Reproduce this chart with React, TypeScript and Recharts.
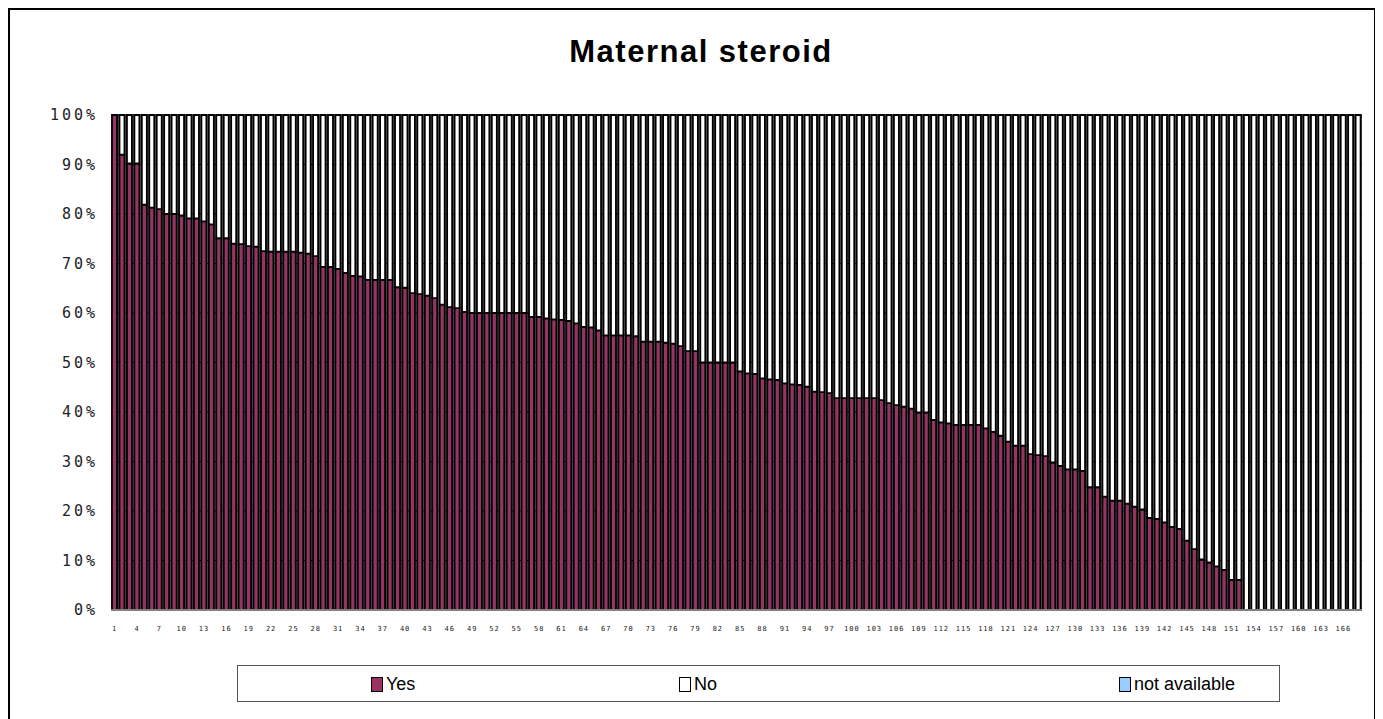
import React from 'react';
import { BarChart, Bar, XAxis, YAxis, CartesianGrid } from 'recharts';

// share of "Yes" per case (percent)
const yesPct = [
  100, 92, 90.2, 90.2, 81.9, 81.3, 81, 80, 80, 79.7, 79.1, 79.1, 78.5, 77.9, 75.1, 75.1, 74, 73.9, 73.5, 73.4,
  72.5, 72.4, 72.4, 72.4, 72.4, 72.2, 72, 71.5,
  69.3, 69.3, 68.9, 68.1, 67.5, 67.4, 66.7, 66.7, 66.7, 66.7, 65.2, 65.1, 64, 63.8, 63.5, 63, 61.7, 61.2, 61, 60.2,
  60, 60, 60, 60, 60, 60, 60, 60,
  59.2, 59.2, 58.9, 58.7, 58.6, 58.4, 57.9, 57.2, 57.1, 56.5, 55.5, 55.5, 55.5, 55.5, 55.3, 54.2, 54.2, 54.2, 54,
  53.8, 53.3, 52.3, 52.3, 50, 50, 50, 50, 50,
  48.2, 47.8, 47.7, 46.8, 46.6, 46.5, 45.8, 45.6, 45.5, 45.1, 44.1, 44, 43.8, 42.8, 42.8, 42.8, 42.8, 42.8, 42.8,
  42.4, 41.8, 41.4, 41.1, 40.7, 39.9, 39.9, 38.4, 37.9,
  37.7, 37.4, 37.4, 37.4, 37.4, 36.7, 36, 35.2, 34, 33.2, 33.2, 31.5, 31.3, 31.1, 29.8, 29.1, 28.4, 28.4, 28.1,
  24.8, 24.8, 22.9, 22.1, 22.1, 21.5, 20.9, 20.3, 18.6,
  18.4, 17.7, 16.8, 16.4, 14, 12.3, 10.2, 9.6, 8.8, 8.1, 6.1, 6.1,
  0, 0, 0, 0, 0, 0, 0, 0, 0, 0, 0, 0, 0, 0, 0, 0,
];
// "not available" share, empty for every case
const naPct = yesPct.map(() => 0);
const cases = yesPct.map((_, i) => String(i + 1));
const yTicks = [0, 10, 20, 30, 40, 50, 60, 70, 80, 90, 100];

const series = [
  { key: 'yes', name: 'Yes', color: '#993366' },
  { key: 'no', name: 'No', color: '#ffffff' },
  { key: 'na', name: 'not available', color: '#99ccff' },
];

const data = cases.map((c, i) => ({
  c,
  yes: yesPct[i],
  no: 100 - yesPct[i] - naPct[i],
  na: naPct[i],
}));

const legendX = [370, 678, 1118];

export default function App() {
  return (
    <div
      style={{
        position: 'relative',
        width: 1368,
        height: 720,
        border: '2px solid #000',
        boxSizing: 'border-box',
        background: '#fff',
        fontFamily: 'Arial, "Liberation Sans", sans-serif',
      }}
    >
      <div
        style={{
          position: 'absolute',
          top: 24,
          left: 0,
          width: 1382,
          textAlign: 'center',
          fontSize: 31,
          fontWeight: 'bold',
          letterSpacing: 1.5,
          color: '#000',
        }}
      >
        Maternal steroid
      </div>

      <div style={{ position: 'absolute', left: 0, top: 0 }}>
        <BarChart
          width={1363}
          height={640}
          data={data}
          margin={{ top: 105, right: 11, bottom: 10, left: 41 }}
          barCategoryGap="14%"
        >
          <CartesianGrid vertical={false} stroke="#111" fill="#666" />
          <XAxis
            dataKey="c"
            interval={2}
            height={30}
            tickLine={false}
            tickSize={6}
            tickMargin={10}
            axisLine={{ stroke: '#808080', strokeWidth: 2 }}
            tick={{ fontSize: 7, fill: '#222', fontFamily: '"DejaVu Sans Mono", monospace', letterSpacing: 1 }}
          />
          <YAxis
            domain={[0, 100]}
            ticks={yTicks}
            width={60}
            tickLine={false}
            axisLine={false}
            tickSize={0}
            tickMargin={13}
            tickFormatter={(v) => `${v}%`}
            tick={{ fontSize: 15, fill: '#222', fontFamily: '"DejaVu Sans Mono", monospace', letterSpacing: 3 }}
          />
          {series.map((s) => (
            <Bar
              key={s.key}
              dataKey={s.key}
              name={s.name}
              stackId="a"
              fill={s.color}
              stroke="#000"
              strokeWidth={1.8}
              isAnimationActive={false}
            />
          ))}
        </BarChart>
      </div>

      <div
        style={{
          position: 'absolute',
          left: 227,
          top: 655,
          width: 1043,
          height: 37,
          border: '1px solid #555',
          boxSizing: 'border-box',
        }}
      >
        {series.map((s, i) => (
          <div
            key={s.key}
            style={{
              position: 'absolute',
              left: legendX[i] - 237,
              top: 8,
              display: 'flex',
              alignItems: 'center',
              fontSize: 18,
              color: '#000',
            }}
          >
            <span
              style={{
                display: 'inline-block',
                width: 10,
                height: 13,
                background: s.color,
                border: '1.5px solid #000',
                marginRight: 3,
              }}
            />
            {s.name}
          </div>
        ))}
      </div>
    </div>
  );
}
